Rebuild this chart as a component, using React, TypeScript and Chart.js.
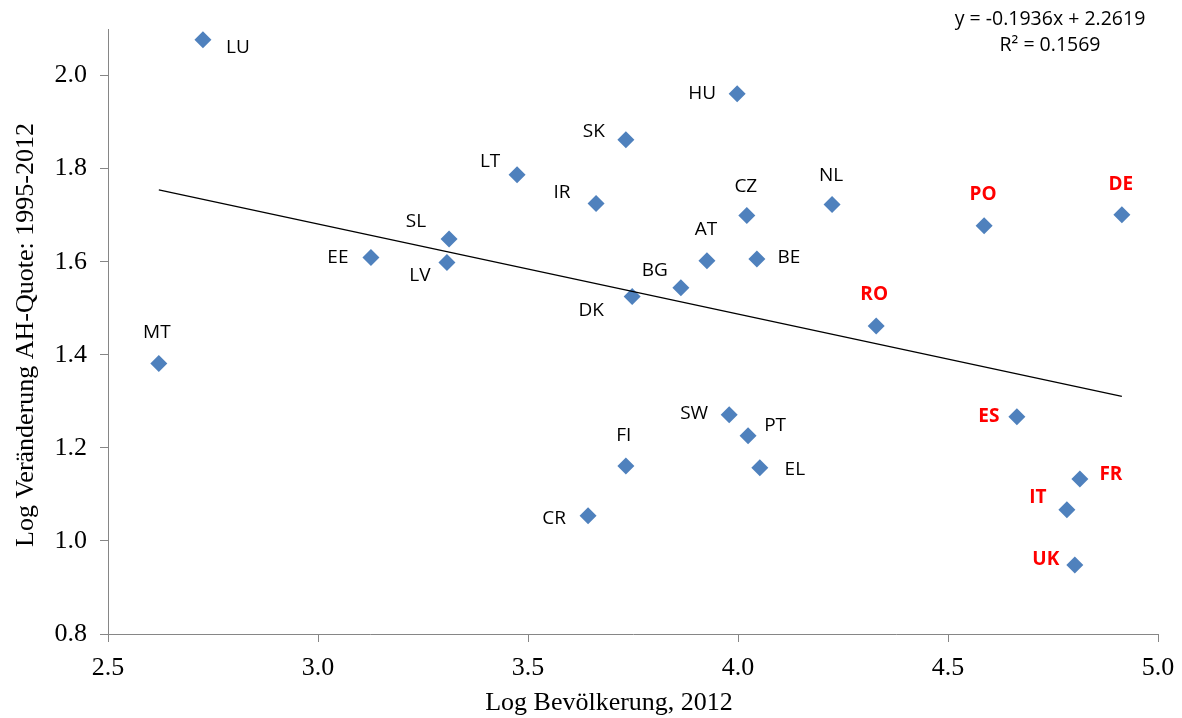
import React, { useEffect, useRef } from "react";
import { Chart, registerables } from "chart.js";

Chart.register(...registerables);

// ---- Data ----
const countries = ["LU", "HU", "SK", "LT", "IR", "CZ", "NL", "PO", "DE", "SL", "EE", "LV", "AT", "BE", "BG", "DK", "RO", "MT", "SW", "ES", "PT", "FI", "EL", "FR", "IT", "CR", "UK"];
const logPopulation = [2.726, 3.998, 3.733, 3.474, 3.662, 4.021, 4.224, 4.586, 4.914, 3.312, 3.126, 3.307, 3.926, 4.045, 3.864, 3.748, 4.329, 2.621, 3.979, 4.664, 4.024, 3.733, 4.052, 4.814, 4.783, 3.643, 4.802];
const logChange = [2.077, 1.961, 1.862, 1.787, 1.725, 1.699, 1.723, 1.677, 1.701, 1.649, 1.609, 1.598, 1.602, 1.606, 1.544, 1.525, 1.462, 1.381, 1.271, 1.267, 1.226, 1.161, 1.157, 1.133, 1.067, 1.054, 0.948];
const highlighted = ["PO", "DE", "RO", "ES", "FR", "IT", "UK"];
const trendSlope = -0.1936;
const trendIntercept = 2.2619;
const trendXRange = [2.621, 4.914];
const equationLines = ["y = -0.1936x + 2.2619", "R² = 0.1569"];
const xTitle = "Log Bevölkerung, 2012";
const yTitle = "Log Veränderung AH-Quote: 1995-2012";

// label offsets (pixels, label centre relative to marker)
const labelOffsets: [number, number][] = [
  [35, 8], [-35, 0], [-32, -8], [-27, -13], [-34, -11], [-1, -29], [-1, -29], [-1, -31], [-1, -30],
  [-33, -17], [-33, 0], [-27, 13], [-1, -31], [32, -1], [-26, -17], [-41, 14], [-2, -31], [-2, -31],
  [-35, -1], [-28, 0], [27, -10], [-2, -30], [35, 2], [31, -4], [-29, -12], [-34, 3], [-29, -6],
];

const MARKER = "#4F81BD";
const AXIS = "#868686";
const SERIF = "'Liberation Serif', 'Times New Roman', serif";
const SANS = "'Open Sans', 'Liberation Sans', sans-serif";

const overlayPlugin = {
  id: "overlay",
  afterDatasetsDraw(chart: any) {
    const ctx = chart.ctx;
    const meta = chart.getDatasetMeta(1);
    ctx.save();
    ctx.textAlign = "center";
    ctx.textBaseline = "middle";
    meta.data.forEach((pt: any, i: number) => {
      const name = countries[i];
      const hi = highlighted.includes(name);
      ctx.font = (hi ? "bold " : "") + "19px " + SANS;
      ctx.fillStyle = hi ? "#FF0000" : "#000000";
      const [dx, dy] = labelOffsets[i];
      ctx.fillText(name, pt.x + dx, pt.y + dy);
    });
    // equation
    ctx.font = "19.5px " + SANS;
    ctx.fillStyle = "#000";
    ctx.fillText(equationLines[0], 1050, 19);
    ctx.fillText(equationLines[1], 1050, 45);
    // axis titles
    ctx.font = "26px " + SERIF;
    ctx.fillText(xTitle, 609, 703);
    ctx.save();
    ctx.translate(26, 335);
    ctx.rotate(-Math.PI / 2);
    ctx.fillText(yTitle, 0, 0);
    ctx.restore();
    ctx.restore();
  },
};

export default function App() {
  const ref = useRef<HTMLCanvasElement>(null);
  useEffect(() => {
    document.body.style.margin = "0";
    const points = logPopulation.map((x, i) => ({ x, y: logChange[i] }));
    const trend = trendXRange.map((x) => ({ x, y: trendSlope * x + trendIntercept }));
    const chart = new Chart(ref.current!, {
      type: "scatter",
      data: {
        datasets: [
          {
            type: "line",
            data: trend,
            borderColor: "#000",
            borderWidth: 1.3,
            pointRadius: 0,
            fill: false,
          } as any,
          {
            data: points,
            pointStyle: "rectRot",
            pointRadius: 8.5,
            pointHoverRadius: 8.5,
            backgroundColor: MARKER,
            borderColor: MARKER,
            borderWidth: 0,
          },
        ],
      },
      options: {
        animation: false,
        responsive: true,
        maintainAspectRatio: false,
        events: [],
        layout: { padding: { top: 29, right: 24, left: 0, bottom: 0 } },
        plugins: { legend: { display: false }, tooltip: { enabled: false } },
        scales: {
          x: {
            type: "linear",
            min: 2.5,
            max: 5.0,
            ticks: {
              stepSize: 0.5,
              color: "#000",
              font: { family: SERIF, size: 26 },
              padding: 11,
              maxRotation: 0,
              minRotation: 0,
              callback: (v: any) => Number(v).toFixed(1),
            },
            grid: { display: true, drawOnChartArea: false, drawTicks: true, tickLength: 8, color: AXIS },
            border: { display: true, color: AXIS, width: 1 },
            afterFit: (s: any) => { s.height = 84; s.paddingRight = 0; s.paddingLeft = 0; },
          },
          y: {
            type: "linear",
            min: 0.8,
            max: 2.1,
            ticks: {
              stepSize: 0.2,
              color: "#000",
              font: { family: SERIF, size: 26 },
              padding: 13,
              callback: (v: any) => Number(v).toFixed(1),
            },
            afterBuildTicks: (s: any) => {
              s.ticks = s.ticks.filter((t: any) => Math.abs(t.value * 5 - Math.round(t.value * 5)) < 1e-6);
            },
            grid: { display: true, drawOnChartArea: false, drawTicks: true, tickLength: 8, color: AXIS },
            border: { display: true, color: AXIS, width: 1 },
            afterFit: (s: any) => { s.width = 108; s.paddingTop = 0; s.paddingBottom = 0; },
          },
        },
      },
      plugins: [overlayPlugin],
    } as any);
    return () => chart.destroy();
  }, []);
  return (
    <div style={{ position: "fixed", left: 0, top: 0, width: 1182, height: 718, background: "#fff" }}>
      <canvas ref={ref} />
    </div>
  );
}
